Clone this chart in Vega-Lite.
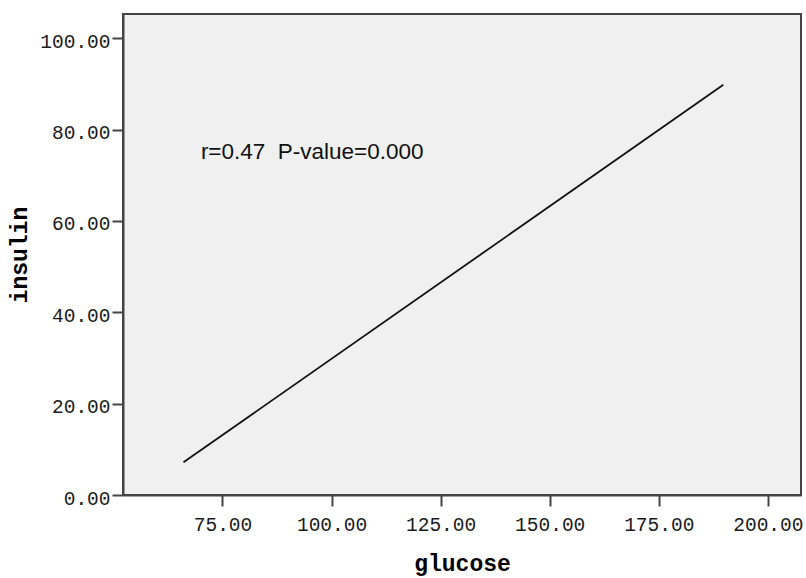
{
  "$schema": "https://vega.github.io/schema/vega-lite/v6.json",
  "width": 678,
  "height": 481,
  "autosize": {"type": "none"},
  "padding": {"left": 123, "top": 14, "right": 5, "bottom": 83},
  "background": "white",
  "config": {
    "view": {"fill": "#f0f0f0", "stroke": "#444444", "strokeWidth": 2},
    "axis": {
      "grid": false,
      "domainColor": "#444444",
      "domainWidth": 2,
      "tickColor": "#444444",
      "tickWidth": 2,
      "tickSize": 11,
      "labelFont": "Liberation Mono",
      "labelFontSize": 19.5,
      "labelColor": "#1a1a1a",
      "titleFont": "Liberation Mono",
      "titleFontSize": 23,
      "titleFontWeight": "bold",
      "titleColor": "#000000"
    }
  },
  "layer": [
    {
      "data": {"values": [
        {"glucose": 66.06, "insulin": 7.15},
        {"glucose": 189.8, "insulin": 89.8}
      ]},
      "mark": {"type": "line", "color": "#111111", "strokeWidth": 1.8, "clip": true},
      "encoding": {
        "x": {"field": "glucose", "type": "quantitative",
              "scale": {"domain": [52.2, 207.6], "nice": false, "zero": false},
              "axis": {"title": "glucose", "values": [75, 100, 125, 150, 175, 200], "format": ".2f", "labelPadding": 9, "titlePadding": 19}},
        "y": {"field": "insulin", "type": "quantitative",
              "scale": {"domain": [0, 105.3], "nice": false},
              "axis": {"title": "insulin", "values": [0, 20, 40, 60, 80, 100], "format": ".2f", "labelPadding": 2, "labelOffset": 3, "titlePadding": 8}}
      }
    },
    {
      "data": {"values": [{"glucose": 70.05, "insulin": 75.0, "label": "r=0.47 \u00a0P-value=0.000"}]},
      "mark": {"type": "text", "align": "left", "baseline": "middle", "font": "Liberation Sans", "fontSize": 22.5, "color": "#111111"},
      "encoding": {
        "x": {"field": "glucose", "type": "quantitative"},
        "y": {"field": "insulin", "type": "quantitative"},
        "text": {"field": "label"}
      }
    }
  ]
}
